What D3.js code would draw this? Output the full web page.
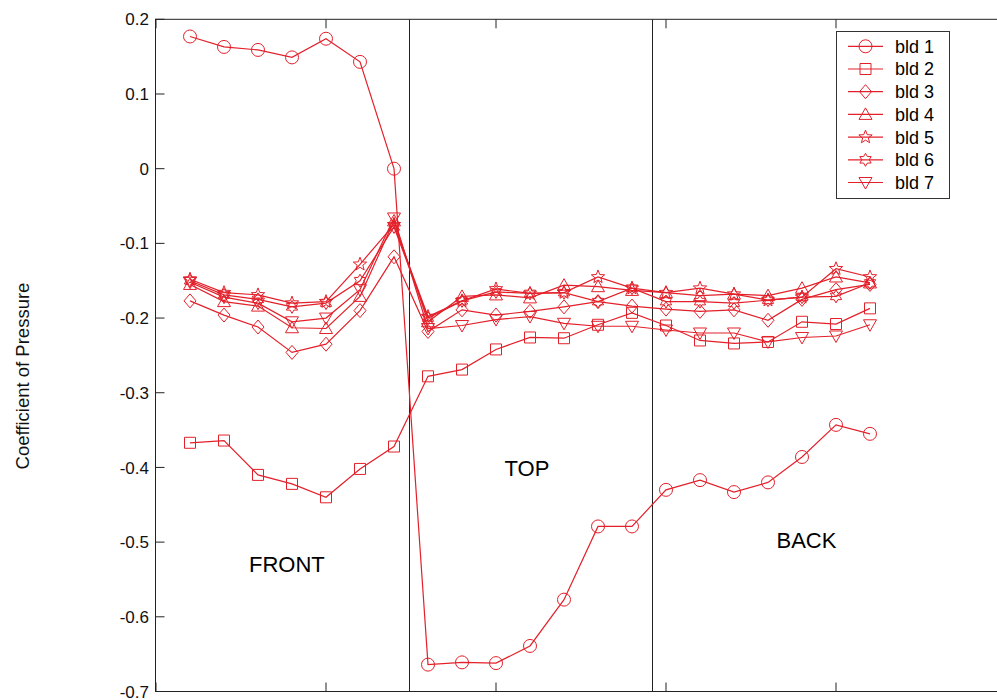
<!DOCTYPE html>
<html>
<head>
<meta charset="utf-8">
<script src="https://cdn.jsdelivr.net/npm/d3@7"></script>
<style>
html,body{margin:0;padding:0;background:#fff;}
svg{display:block;font-family:Arial,"Liberation Sans",sans-serif;}
</style>
</head>
<body>
<svg id="chart" width="997" height="700"></svg>
<script>
// ---------- data ----------
const positions = [1,2,3,4,5,6,7, 8,9,10,11,12,13,14, 15,16,17,18,19,20,21];
const seriesNames = ["bld 1","bld 2","bld 3","bld 4","bld 5","bld 6","bld 7"];
const bld1 = [0.177,0.163,0.159,0.149,0.174,0.143,0.000, -0.664,-0.661,-0.662,-0.639,-0.577,-0.479,-0.479, -0.430,-0.417,-0.433,-0.420,-0.386,-0.343,-0.355];
const bld2 = [-0.367,-0.364,-0.410,-0.422,-0.440,-0.402,-0.372, -0.278,-0.269,-0.242,-0.226,-0.227,-0.209,-0.193, -0.210,-0.230,-0.234,-0.232,-0.205,-0.208,-0.187];
const bld3 = [-0.177,-0.196,-0.212,-0.246,-0.235,-0.190,-0.118, -0.218,-0.189,-0.196,-0.191,-0.185,-0.178,-0.184, -0.188,-0.191,-0.189,-0.203,-0.175,-0.162,-0.155];
const bld4 = [-0.155,-0.178,-0.184,-0.213,-0.214,-0.171,-0.070, -0.205,-0.171,-0.169,-0.173,-0.156,-0.158,-0.163, -0.166,-0.170,-0.168,-0.170,-0.160,-0.145,-0.153];
const bld5 = [-0.148,-0.166,-0.169,-0.180,-0.178,-0.128,-0.075, -0.198,-0.177,-0.161,-0.167,-0.166,-0.145,-0.160, -0.166,-0.160,-0.168,-0.176,-0.172,-0.134,-0.145];
const bld6 = [-0.150,-0.169,-0.175,-0.185,-0.180,-0.150,-0.078, -0.200,-0.177,-0.165,-0.167,-0.166,-0.178,-0.160, -0.178,-0.178,-0.180,-0.176,-0.172,-0.171,-0.153];
const bld7 = [-0.152,-0.172,-0.180,-0.205,-0.200,-0.162,-0.066, -0.214,-0.210,-0.202,-0.198,-0.207,-0.211,-0.211, -0.216,-0.220,-0.220,-0.232,-0.226,-0.224,-0.209];
const seriesValues = [bld1,bld2,bld3,bld4,bld5,bld6,bld7];
const markerTypes = ["circle","square","diamond","triangleUp","star","hexagram","triangleDown"];
const yTicks = [0.2,0.1,0,-0.1,-0.2,-0.3,-0.4,-0.5,-0.6,-0.7];
const xTicks = [0,5,10,15,20,25];
const dividers = [7.44, 14.59];
const regionLabels = ["FRONT","TOP","BACK"];
const regionX = [3.85, 10.91, 19.13];
const regionY = [-0.540, -0.412, -0.508];
const yLabel = "Coefficient of Pressure";

// ---------- layout ----------
const RED = "#e3202a";
const AX = "#222";
const svg = d3.select("#chart");
const x = d3.scaleLinear().domain([0,25]).range([156,1006]);
const y = d3.scaleLinear().domain([-0.7,0.2]).range([691.5,19.3]);
const pL = 155.5, pR = 1006.5, pT = 19.3, pB = 691.5;

function markerPath(type){
  const p = d3.path();
  if(type==="circle"){ p.moveTo(6.5,0); p.arc(0,0,6.5,0,2*Math.PI); }
  else if(type==="square"){ p.rect(-5.5,-5.5,11,11); }
  else if(type==="diamond"){ p.moveTo(0,-7); p.lineTo(6,0); p.lineTo(0,7); p.lineTo(-6,0); p.closePath(); }
  else if(type==="triangleUp"){ p.moveTo(0,-6.5); p.lineTo(6.5,5); p.lineTo(-6.5,5); p.closePath(); }
  else if(type==="triangleDown"){ p.moveTo(0,6.5); p.lineTo(6.5,-5); p.lineTo(-6.5,-5); p.closePath(); }
  else if(type==="star"){
    for(let i=0;i<10;i++){ const r = i%2===0?7:3; const a = -Math.PI/2 + i*Math.PI/5;
      if(i===0) p.moveTo(r*Math.cos(a), r*Math.sin(a)); else p.lineTo(r*Math.cos(a), r*Math.sin(a)); }
    p.closePath();
  } else if(type==="hexagram"){
    for(let i=0;i<12;i++){ const r = i%2===0?6.5:3.75; const a = -Math.PI/2 + i*Math.PI/6;
      if(i===0) p.moveTo(r*Math.cos(a), r*Math.sin(a)); else p.lineTo(r*Math.cos(a), r*Math.sin(a)); }
    p.closePath();
  }
  return p.toString();
}

// frame
svg.append("rect").attr("x",pL).attr("y",pT).attr("width",pR-pL).attr("height",pB-pT)
  .attr("fill","none").attr("stroke",AX).attr("stroke-width",1);

// y ticks
const yt = svg.append("g");
yTicks.forEach(v=>{
  yt.append("line").attr("x1",pL).attr("x2",pL+9).attr("y1",y(v)).attr("y2",y(v)).attr("stroke",AX);
  yt.append("line").attr("x1",pR).attr("x2",pR-9).attr("y1",y(v)).attr("y2",y(v)).attr("stroke",AX);
  yt.append("text").attr("x",149).attr("y",y(v)).attr("dy","0.36em").attr("text-anchor","end")
    .attr("font-size",17).attr("fill","#111").text(v===0?"0":d3.format(".1f")(v).replace("\u2212","-"));
});
// x ticks, no labels
const xt = svg.append("g");
xTicks.forEach(v=>{
  xt.append("line").attr("x1",x(v)).attr("x2",x(v)).attr("y1",pB).attr("y2",pB-9).attr("stroke",AX);
  xt.append("line").attr("x1",x(v)).attr("x2",x(v)).attr("y1",pT).attr("y2",pT+9).attr("stroke",AX);
});

// dividers
dividers.forEach(v=>{
  svg.append("line").attr("x1",Math.round(x(v))+0.5).attr("x2",Math.round(x(v))+0.5).attr("y1",pT).attr("y2",pB)
    .attr("stroke",AX).attr("stroke-width",1);
});

// region labels
regionLabels.forEach((t,i)=>{
  svg.append("text").attr("x",x(regionX[i])).attr("y",y(regionY[i])).attr("text-anchor","middle")
    .attr("font-size",22).attr("fill","#000").text(t);
});

// y label
svg.append("text").attr("transform","translate(29,376) rotate(-90)").attr("text-anchor","middle")
  .attr("font-size",18.5).attr("fill","#111").text(yLabel);

// series
const line = d3.line().x((d,i)=>x(positions[i])).y(d=>y(d));
seriesValues.forEach((vals,s)=>{
  const g = svg.append("g");
  g.append("path").attr("d",line(vals)).attr("fill","none").attr("stroke",RED).attr("stroke-width",1.2);
  const mp = markerPath(markerTypes[s]);
  g.selectAll("path.m").data(vals).join("path").attr("class","m")
    .attr("transform",(d,i)=>`translate(${x(positions[i])},${y(d)})`)
    .attr("d",mp).attr("fill","none").attr("stroke",RED).attr("stroke-width",1);
});

// legend
const lg = svg.append("g");
lg.append("rect").attr("x",836.5).attr("y",31.5).attr("width",113).attr("height",167)
  .attr("fill","#fff").attr("stroke","#333").attr("stroke-width",1);
seriesNames.forEach((n,i)=>{
  const ly = 46.3 + i*22.7;
  lg.append("line").attr("x1",848).attr("x2",883).attr("y1",ly).attr("y2",ly).attr("stroke",RED).attr("stroke-width",1.2);
  lg.append("path").attr("transform",`translate(865.5,${ly})`).attr("d",markerPath(markerTypes[i]))
    .attr("fill","none").attr("stroke",RED).attr("stroke-width",1);
  lg.append("text").attr("x",895).attr("y",ly).attr("dy","0.36em").attr("font-size",18).attr("fill","#000").text(n);
});
</script>
</body>
</html>
